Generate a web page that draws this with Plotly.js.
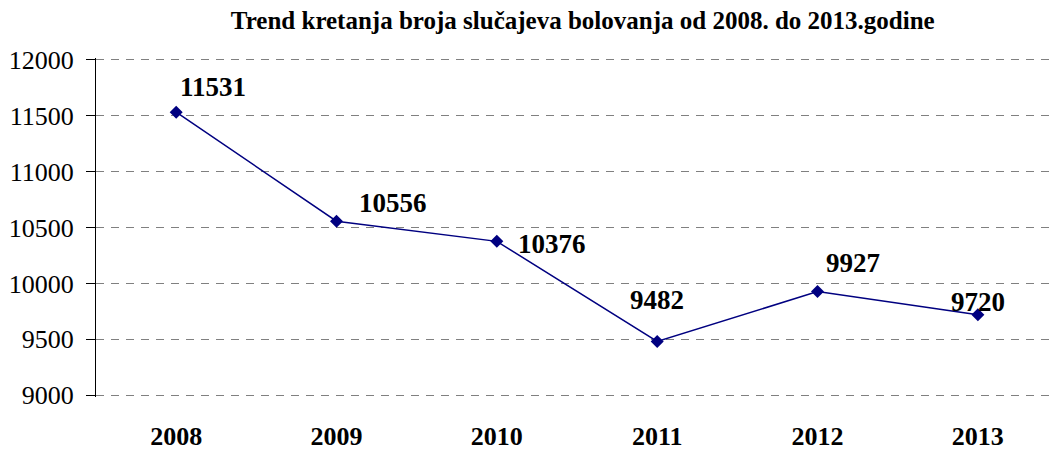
<!DOCTYPE html>
<html>
<head>
<meta charset="utf-8">
<script src="https://cdn.plot.ly/plotly-3.0.1.min.js"></script>
<style>
    html, body { margin: 0; padding: 0; background: white; }
    #chart { width: 1050px; height: 451px; }
</style>
</head>
<body>
<div id="chart"></div>
<script>
// Broj slučajeva bolovanja po godinama
const years = ['2008', '2009', '2010', '2011', '2012', '2013'];
const cases = [11531, 10556, 10376, 9482, 9927, 9720];
// pomak oznaka (px) kako su smještene na originalu
const labelShiftX = [37, 56, 55, 0, 35, 0];
const labelShiftY = [25, 18, -3, 41, 29, 13];

const serif = 'Liberation Serif, Times New Roman, serif';

const trace = {
    x: years,
    y: cases,
    type: 'scatter',
    mode: 'lines+markers',
    line: { color: '#000080', width: 1.5 },
    marker: { symbol: 'diamond', size: 10, color: '#000080' },
    hoverinfo: 'skip'
};

const annotations = years.map((yr, i) => ({
    xref: 'x',
    yref: 'y',
    x: i,
    y: cases[i],
    text: '<b>' + cases[i] + '</b>',
    showarrow: false,
    xshift: labelShiftX[i],
    yshift: labelShiftY[i],
    font: { family: serif, size: 27, color: '#000000' }
}));

const layout = {
    title: {
        text: '<b>Trend kretanja broja slučajeva bolovanja od 2008. do 2013.godine</b>',
        font: { family: serif, size: 25, color: '#000000' },
        x: 0.555,
        xanchor: 'center',
        y: 0.955,
        yanchor: 'middle'
    },
    xaxis: {
        type: 'category',
        range: [-0.5, 5.45],
        showgrid: false,
        showline: false,
        zeroline: false,
        ticks: '',
        tickfont: { family: serif, size: 26, color: '#000000', weight: 'bold' },
        ticklabelstandoff: 21
    },
    yaxis: {
        range: [8985, 12015],
        tickvals: [9000, 9500, 10000, 10500, 11000, 11500, 12000],
        showgrid: true,
        gridcolor: '#808080',
        griddash: '8px,7px',
        gridwidth: 1,
        showline: true,
        linecolor: '#000000',
        linewidth: 1,
        ticks: 'outside',
        ticklen: 9,
        tickcolor: '#000000',
        zeroline: false,
        tickfont: { family: serif, size: 26, color: '#000000' },
        tickformat: 'd',
        ticklabelstandoff: 7
    },
    annotations: annotations,
    plot_bgcolor: 'white',
    paper_bgcolor: 'white',
    margin: { t: 58, r: 0, b: 53, l: 96 },
    showlegend: false
};

Plotly.newPlot('chart', [trace], layout, { displayModeBar: false, staticPlot: true });
</script>
</body>
</html>
